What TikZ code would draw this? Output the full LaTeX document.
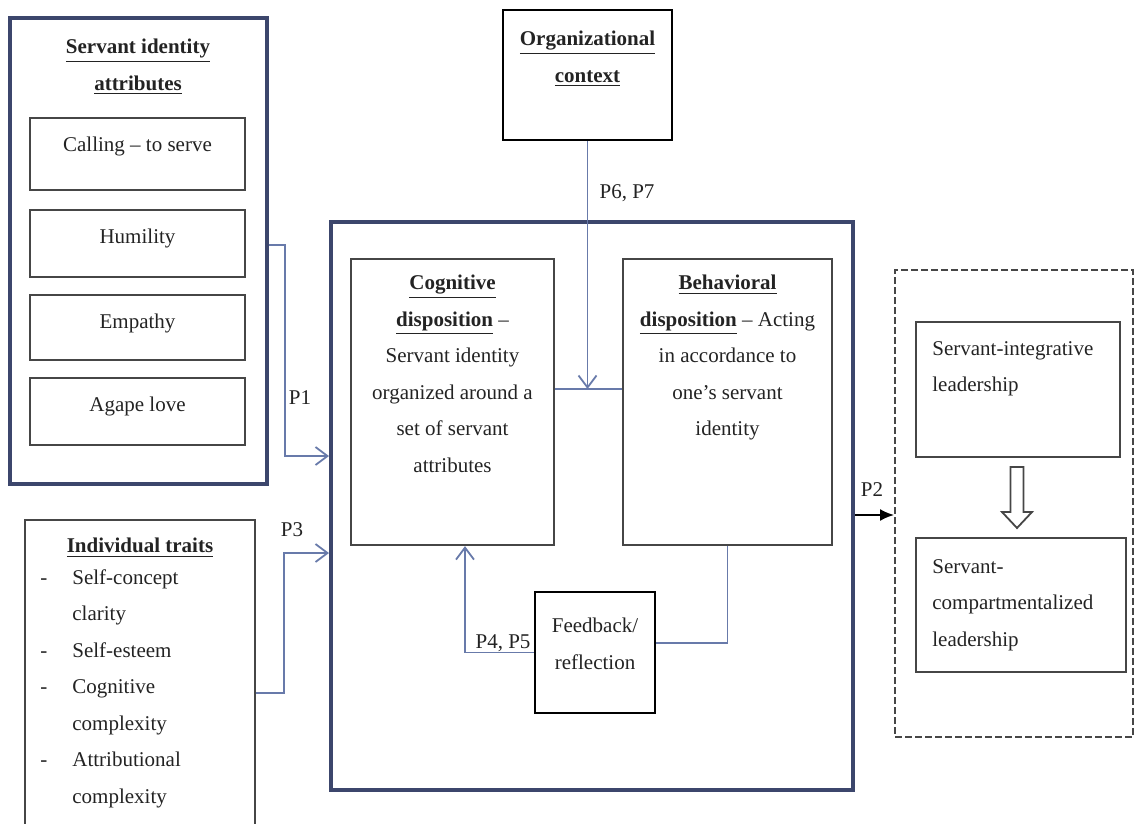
\documentclass[tikz,border=0pt]{standalone}
\usepackage{fontspec}
\setmainfont{Liberation Serif}
\usepackage{xcolor}
\usetikzlibrary{positioning,arrows.meta,fit}
\definecolor{frameblue}{RGB}{60,70,108}
\definecolor{linkblue}{RGB}{104,122,170}
\definecolor{boxgrey}{RGB}{70,70,70}
\definecolor{inkgrey}{RGB}{35,35,35}
\newcommand{\hd}[1]{\underline{\textbf{#1}}}
\newcommand{\itm}[1]{\makebox[16pt][l]{#1}}
\tikzset{
  frame/.style  ={draw=frameblue, line width=2pt, inner sep=0pt},
  box/.style    ={draw=boxgrey, line width=1.1pt, inner sep=0pt},
  txt/.style    ={font=\fontsize{10.5pt}{18.25pt}\selectfont, text=inkgrey,
                  inner sep=0pt, align=center},
  link/.style   ={draw=linkblue, line width=0.9pt},
  linkar/.style ={link, -{Straight Barb[length=6pt,width=9pt]}},
  outar/.style  ={draw=black, line width=0.9pt, -{Latex[length=7pt,width=6pt]}},
}
\begin{document}
\begin{tikzpicture}[x=0.5pt,y=-0.5pt]
\useasboundingbox (0,0) rectangle (1135,824);
\clip (0,0) rectangle (1135,824);

% ---------- servant identity attributes ----------
\node[frame, fit={(10,18) (267,484)}] (servant) {};
\node[txt, anchor=north] (servanthd) at (138,39) {\hd{Servant identity}\\\hd{attributes}};
\node[box, fit={(30,118) (245,190)}] (calling) {};
\node[txt, anchor=north] (callingtxt) at (137.5,137) {Calling -- to serve};
\node[box, fit={(30,210) (245,277)}] (humility) {};
\node[txt, anchor=north] (humilitytxt) at (137.5,229) {Humility};
\node[box, fit={(30,295) (245,360)}] (empathy) {};
\node[txt, anchor=north] (empathytxt) at (137.5,314) {Empathy};
\node[box, fit={(30,378) (245,445)}] (agape) {};
\node[txt, anchor=north] (agapetxt) at (137.5,397) {Agape love};

% ---------- individual traits ----------
\node[box, fit={(25,520) (255,840)}] (traits) {};
\node[txt, anchor=north] (traitshd) at (140,538) {\hd{Individual traits}};
\node[txt, anchor=north west, align=left] (traitslist) at (40,569)
  {\itm{-}Self-concept\\\itm{}clarity\\\itm{-}Self-esteem\\\itm{-}Cognitive\\
   \itm{}complexity\\\itm{-}Attributional\\\itm{}complexity};

% ---------- organizational context ----------
\node[box, draw=black, fit={(503,10) (672,140)}] (org) {};
\node[txt, anchor=north] (orghd) at (587.5,31) {\hd{Organizational}\\\hd{context}};

% ---------- servant identity core ----------
\node[frame, fit={(331,222) (853,790)}] (core) {};
\node[box, fit={(351,259) (554,545)}] (cognitive) {};
\node[txt, anchor=north] (cognitivetxt) at (452.5,275)
  {\hd{Cognitive}\\\hd{disposition} --\\Servant identity\\organized around a\\set of servant\\attributes};
\node[box, fit={(623,259) (832,545)}] (behavioral) {};
\node[txt, anchor=north] (behavioraltxt) at (727.5,275)
  {\hd{Behavioral}\\\hd{disposition} -- Acting\\in accordance to\\one’s servant\\identity};
\node[box, draw=black, fit={(535,592) (655,713)}] (feedback) {};
\node[txt, anchor=north] (feedbacktxt) at (595,618) {Feedback/\\reflection};

% ---------- leadership outcomes ----------
\node[draw=boxgrey, line width=1pt, dash pattern=on 3.5pt off 1.5pt, inner sep=0pt,
      fit={(895,270) (1133,737)}] (outcome) {};
\node[box, fit={(916,322) (1120,457)}] (integrative) {};
\node[txt, anchor=north west, align=left] (integrativetxt) at (932,341) {Servant-integrative\\leadership};
\node[box, fit={(916,538) (1126,672)}] (compart) {};
\node[txt, anchor=north west, align=left] (comparttxt) at (932,559) {Servant-\\compartmentalized\\leadership};
% hollow block arrow
\draw[draw=boxgrey, line width=0.9pt, line join=miter] (1010.5,467) -- (1023.5,467) -- (1023.5,512)
  -- (1032,512) -- (1017,528) -- (1002,512) -- (1010.5,512) -- cycle;

% ---------- connectors ----------
\coordinate (p1bend) at (285,456);
\coordinate (p3bend) at (284,553);
\coordinate (meet) at (587.5,389);
\coordinate (p2) at (853,515);
\draw[linkar] ([yshift=3pt]servant.east) -| (p1bend) -- (p1bend -| core.west);
\draw[linkar] ([yshift=-6.5pt]traits.east) -| (p3bend) -- (p3bend -| core.west);
\draw[linkar] (org.south) -- (meet);
\draw[link] (cognitive.east |- meet) -- (behavioral.west |- meet);
\draw[link] (behavioral.south) |- ([yshift=4.75pt]feedback.east);
\draw[linkar] (feedback.west) -| ([xshift=6.25pt]cognitive.south);
\draw[outar] (core.east |- p2) -- (outcome.west |- p2);

% ---------- labels ----------
\node[txt] (p1) at (300,398) {P1};
\node[txt] (p3) at (292,530) {P3};
\node[txt] (p67) at (627,193) {P6, P7};
\node[txt] (p45) at (503,643) {P4, P5};
\node[txt] (p2lab) at (872,490) {P2};
\end{tikzpicture}
\end{document}
